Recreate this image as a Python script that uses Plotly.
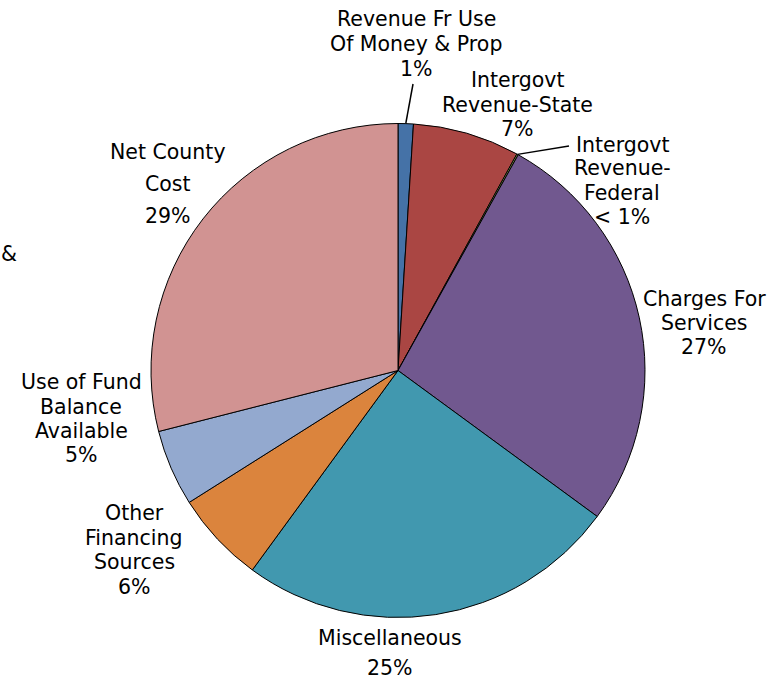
import math
import plotly.graph_objects as go

# Revenue sources and their share of the total (percent)
categories = [
    "Revenue Fr Use Of Money & Prop",
    "Intergovt Revenue-State",
    "Intergovt Revenue-Federal",
    "Charges For Services",
    "Miscellaneous",
    "Other Financing Sources",
    "Use of Fund Balance Available",
    "Net County Cost",
]
shares = [1, 7, 0.1, 27, 25, 6, 5, 29]
pct_text = ["1%", "7%", "< 1%", "27%", "25%", "6%", "5%", "29%"]
label_lines = [
    ["Revenue Fr Use", "Of Money & Prop"],
    ["Intergovt", "Revenue-State"],
    ["Intergovt", "Revenue-", "Federal"],
    ["Charges For", "Services"],
    ["Miscellaneous"],
    ["Other", "Financing", "Sources"],
    ["Use of Fund", "Balance", "Available"],
    ["Net County", "Cost"],
]

colors = ["#4572A7", "#AA4643", "#89A54E", "#71588F",
          "#4198AF", "#DB843D", "#93A9CF", "#D19392"]

W, H = 782, 681
CX, CY, R = 398, 370.5, 247  # pie centre and radius in pixels

# label placement: centre x and the y of every text line (pixels)
label_x = [416, 517, 622, 704, 390, 134, 81, 168]
label_y = [
    [19, 44, 69],
    [80, 105, 129],
    [145, 168, 193, 217],
    [299, 323, 347],
    [638, 668],
    [513, 538, 562, 587],
    [382, 407, 431, 455],
    [152, 184, 216],
]
# slices that get a leader line, with the text end of the line (pixels)
leaders = {0: (413, 84), 2: (569, 146)}

FONT = dict(family="DejaVu Sans, sans-serif", size=20.5, color="#000000")


def px(x):
    return x / W


def py(y):
    return 1 - y / H


fig = go.Figure(
    go.Pie(
        labels=categories,
        values=shares,
        sort=False,
        direction="clockwise",
        rotation=0,
        marker=dict(colors=colors, line=dict(color="#000000", width=1)),
        textinfo="none",
        hoverinfo="label+percent",
        showlegend=False,
        domain=dict(x=[px(CX - R), px(CX + R)], y=[py(CY + R), py(CY - R)]),
    )
)

annotations = []
for i, lines in enumerate(label_lines):
    texts = lines + [pct_text[i]]
    for t, yy in zip(texts, label_y[i]):
        annotations.append(dict(
            text=t, x=px(label_x[i]), y=py(yy), xref="paper", yref="paper",
            xanchor="center", yanchor="middle", showarrow=False,
            borderpad=0, font=FONT,
        ))

# fragment of a label at the left edge
annotations.append(dict(text="&", x=0, y=py(254), xref="paper", yref="paper",
                        xanchor="left", yanchor="middle", showarrow=False,
                        borderpad=0, font=FONT))

# leader lines from the slice edge to the label
total = sum(shares)
shapes = []
start = 0.0
for i, v in enumerate(shares):
    mid = start + v / 2
    start += v
    if i in leaders:
        ang = 2 * math.pi * mid / total
        ex = CX + R * math.sin(ang)
        ey = CY - R * math.cos(ang)
        tx, ty = leaders[i]
        shapes.append(dict(type="line", xref="paper", yref="paper",
                           x0=px(ex), y0=py(ey), x1=px(tx), y1=py(ty),
                           line=dict(color="#000000", width=1.5)))

fig.update_layout(
    width=W, height=H,
    margin=dict(l=0, r=0, t=0, b=0),
    paper_bgcolor="#FFFFFF",
    plot_bgcolor="#FFFFFF",
    annotations=annotations,
    shapes=shapes,
)

fig.write_html("out.html")
